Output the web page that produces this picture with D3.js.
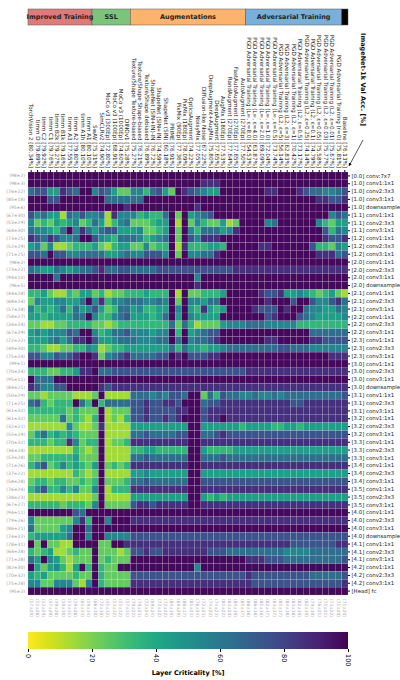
<!DOCTYPE html>
<html>
<head>
<meta charset="utf-8">
<script src="https://cdn.jsdelivr.net/npm/d3@7"></script>
<style>
  body { margin: 0; background: #fff; }
  text { font-family: "DejaVu Sans", sans-serif; }
</style>
</head>
<body>
<div id="container"></div>
<script>
/* DATA */
const columns = [
  "TorchVision 2 [80.34%]", "timm D [79.89%]", "timm C2 [79.92%]", "timm C1 [79.76%]", "timm B2k [79.27%]",
  "timm B1k [79.16%]", "timm A3 [77.55%]", "timm A2 [79.80%]", "timm A1h [80.10%]", "timm A1 [80.10%]",
  "SwAV [75.31%]", "SimCLRv2 [74.90%]", "MoCo v3 (300Ep) [72.80%]", "MoCo v3 (100Ep) [68.91%]", "MoCo v3 (1000Ep) [74.60%]", "DINOv1 [75.28%]",
  "Texture/Shape Texture-biased [75.27%]", "Texture/Shape Shape-biased [76.21%]", "Texture/Shape debiased [76.89%]",
  "ShapeNet (SIN+IN)-IN [76.72%]", "ShapeNet (SIN+IN) [74.59%]", "ShapeNet (SIN) [60.18%]", "PRIME [76.91%]",
  "PixMix (90Ep) [77.36%]", "PixMix (180Ep) [78.09%]", "OpticsAugment [74.22%]", "NoisyMix [77.05%]",
  "Diffusion-like Noise [67.22%]", "DeepAugment+AugMix [75.80%]", "DeepAugment [77.65%]", "AugMix (180Ep) [77.53%]",
  "RandAugment (270Ep) [77.64%]", "FastAutoAugment (270Ep) [77.65%]", "AutoAugment (270Ep) [77.50%]",
  "PGD Adversarial Training (L\u221E, \u03B5=8.0) [54.53%]", "PGD Adversarial Training (L\u221E, \u03B5=4.0) [63.87%]",
  "PGD Adversarial Training (L\u221E, \u03B5=2.0) [69.09%]", "PGD Adversarial Training (L\u221E, \u03B5=1.0) [72.04%]",
  "PGD Adversarial Training (L\u221E, \u03B5=0.5) [73.74%]", "PGD Adversarial Training (L2, \u03B5=5) [56.14%]",
  "PGD Adversarial Training (L2, \u03B5=3) [62.83%]", "PGD Adversarial Training (L2, \u03B5=1) [70.42%]",
  "PGD Adversarial Training (L2, \u03B5=0.5) [73.17%]", "PGD Adversarial Training (L2, \u03B5=0.25) [74.14%]",
  "PGD Adversarial Training (L2, \u03B5=0.1) [74.79%]", "PGD Adversarial Training (L2, \u03B5=0.05) [75.58%]",
  "PGD Adversarial Training (L2, \u03B5=0.03) [75.77%]", "PGD Adversarial Training (L2, \u03B5=0.01) [75.67%]",
  "PGD Adversarial Training (r=0) [75.81%]", "Baseline [76.13%]"
]

const groups = ["Improved Training", "SSL", "Augmentations", "Adversarial Training", ""]
const groupSizes = [10, 6, 18, 15, 1]
const groupColors = ["#e07a7a", "#7cc47c", "#fcb36b", "#79b0d9", "#000000"]

const rows = [
  "[0.0] conv:7x7", "[1.0] conv1:1x1", "[1.0] conv2:3x3", "[1.0] conv3:1x1", "[1.0] downsample",
  "[1.1] conv1:1x1", "[1.1] conv2:3x3", "[1.1] conv3:1x1", "[1.2] conv1:1x1", "[1.2] conv2:3x3", "[1.2] conv3:1x1",
  "[2.0] conv1:1x1", "[2.0] conv2:3x3", "[2.0] conv3:1x1", "[2.0] downsample",
  "[2.1] conv1:1x1", "[2.1] conv2:3x3", "[2.1] conv3:1x1", "[2.2] conv1:1x1", "[2.2] conv2:3x3", "[2.2] conv3:1x1",
  "[2.3] conv1:1x1", "[2.3] conv2:3x3", "[2.3] conv3:1x1",
  "[3.0] conv1:1x1", "[3.0] conv2:3x3", "[3.0] conv3:1x1", "[3.0] downsample",
  "[3.1] conv1:1x1", "[3.1] conv2:3x3", "[3.1] conv3:1x1", "[3.2] conv1:1x1", "[3.2] conv2:3x3", "[3.2] conv3:1x1",
  "[3.3] conv1:1x1", "[3.3] conv2:3x3", "[3.3] conv3:1x1", "[3.4] conv1:1x1", "[3.4] conv2:3x3", "[3.4] conv3:1x1",
  "[3.5] conv1:1x1", "[3.5] conv2:3x3", "[3.5] conv3:1x1",
  "[4.0] conv1:1x1", "[4.0] conv2:3x3", "[4.0] conv3:1x1", "[4.0] downsample",
  "[4.1] conv1:1x1", "[4.1] conv2:3x3", "[4.1] conv3:1x1", "[4.2] conv1:1x1", "[4.2] conv2:3x3", "[4.2] conv3:1x1",
  "[Head] fc"
]

const rowStats = [
  "(98\u00B12)", "(98\u00B13)", "(76\u00B122)", "(85\u00B118)", "(95\u00B16)",
  "(67\u00B130)", "(53\u00B129)", "(64\u00B130)", "(73\u00B125)", "(52\u00B129)", "(71\u00B125)",
  "(98\u00B12)", "(73\u00B122)", "(94\u00B110)", "(96\u00B15)",
  "(44\u00B128)", "(68\u00B124)", "(57\u00B128)", "(58\u00B127)", "(34\u00B124)", "(67\u00B129)",
  "(72\u00B122)", "(49\u00B130)", "(75\u00B124)",
  "(99\u00B11)", "(70\u00B124)", "(95\u00B111)", "(84\u00B121)",
  "(50\u00B129)", "(71\u00B125)", "(61\u00B132)", "(61\u00B132)", "(32\u00B121)", "(55\u00B129)",
  "(70\u00B132)", "(36\u00B124)", "(53\u00B128)", "(71\u00B126)", "(37\u00B122)", "(58\u00B128)",
  "(76\u00B124)", "(38\u00B123)", "(67\u00B127)",
  "(94\u00B111)", "(79\u00B126)", "(86\u00B121)", "(74\u00B122)",
  "(78\u00B131)", "(64\u00B128)", "(71\u00B128)", "(82\u00B130)", "(70\u00B132)", "(75\u00B128)",
  "(95\u00B12)"
]

// criticality per cell, one digit per column (0 = ~5%, 9 = ~98%), split by column group
const cellLevels = [
  ["9999999999", "999999", "999999999999999999", "999999999999999", "9"],
  ["9999999999", "999999", "999999999998889999", "999999999999999", "9"],
  ["6774487699", "576422", "553674298765449999", "999889998766556", "7"],
  ["9997799999", "996666", "669999999999999999", "999999999998877", "8"],
  ["9999999999", "999998", "999999999989999999", "999999999999999", "9"],
  ["7564416575", "561855", "534336929456799999", "999999999999957", "6"],
  ["5232434523", "641356", "222344919253224129", "999569999995324", "4"],
  ["6554369586", "467744", "452234929536664589", "999999999999736", "5"],
  ["8768755699", "754366", "653456929758889999", "999999999999877", "8"],
  ["4525112333", "421344", "225233918333443999", "998899999973325", "4"],
  ["7769775566", "664456", "557775929556689999", "999999999998886", "7"],
  ["9999999999", "999999", "999999999999999999", "999999999999999", "9"],
  ["6544654566", "786677", "666677777777777788", "888888888888888", "8"],
  ["9999699999", "999999", "999999999959999999", "999999999999999", "9"],
  ["9999999999", "999999", "999999999989999999", "999999999999999", "9"],
  ["3342113244", "231223", "334333919223334999", "998778445432342", "1"],
  ["2544554469", "583556", "665565929554669999", "999899979975578", "6"],
  ["5343463645", "742366", "453344959438434999", "987779899655446", "5"],
  ["4434444669", "533567", "444346949544449999", "999789997654444", "5"],
  ["2211223333", "221233", "333333626312224555", "666555553333333", "3"],
  ["4545557699", "534667", "555455939456779999", "999999999966666", "6"],
  ["4445646889", "744566", "655566969566789999", "999889999988777", "7"],
  ["3321122335", "412334", "444444636443445666", "666667766655555", "5"],
  ["7755767899", "825678", "666677989777889999", "999999999999988", "8"],
  ["9999999999", "999999", "999999999999999999", "999999999999999", "9"],
  ["3332233488", "966777", "777777777777777777", "888888888888888", "8"],
  ["9666999999", "999999", "999999999999999999", "999999999999999", "9"],
  ["8755779999", "987888", "888888888888888888", "888888888888888", "8"],
  ["2212222111", "291111", "666565776992637665", "565565666666666", "7"],
  ["6732333963", "936666", "778778879996778888", "888888877888888", "8"],
  ["3333332322", "291222", "778777788997888888", "888888888888888", "8"],
  ["2222262321", "391213", "778778789997889888", "888888888888888", "8"],
  ["1111115211", "281111", "444444444994444443", "444433443444444", "4"],
  ["2463434322", "291111", "667666677996678777", "777777777777777", "7"],
  ["3332338523", "391223", "888888888998888888", "888888888888888", "8"],
  ["1111111321", "291111", "334433333994333344", "444444444444444", "4"],
  ["2233333422", "291111", "667666666996667666", "666666666666666", "6"],
  ["3572353432", "492323", "888888888998888888", "888888888888888", "8"],
  ["1111111321", "291111", "445444444994444444", "444444444444444", "4"],
  ["2332332232", "392223", "667666666997777777", "777777777777777", "7"],
  ["3573353522", "591333", "888888888998888888", "888888888888888", "8"],
  ["1111111111", "291111", "444444444994343444", "444444444444444", "4"],
  ["3333323332", "592222", "788788888998888888", "888888888888888", "8"],
  ["9999999769", "999999", "999999999999999999", "999999999999999", "9"],
  ["5222222583", "995999", "888888888888888888", "888888888888888", "8"],
  ["6222245996", "999999", "999999999999999999", "999999999999999", "9"],
  ["3444446995", "995555", "777777777777777777", "777777777777777", "7"],
  ["9292211999", "922998", "888888888888888888", "888888877777778", "8"],
  ["3234112322", "922212", "778778888888777666", "666666555566666", "6"],
  ["6495421222", "923222", "999999999999999999", "888777666666666", "7"],
  ["9424531493", "932299", "999999999959999999", "999999999999999", "9"],
  ["4342222322", "932222", "777777777777777777", "877777777766666", "7"],
  ["5522555215", "932222", "888888888888888888", "877777777777777", "8"],
  ["9999999999", "999999", "999999999999999999", "999999999999999", "9"]
]

const levelValues = [4, 14, 24, 34, 44, 54, 64, 74, 86, 98]
const colorTicks = [0, 20, 40, 60, 80, 100]

/* LAYOUT */
const width = 400, height = 680
const hm = { left: 28, right: 348, top: 172, bottom: 595 }

const cells = []
cellLevels.forEach((parts, r) => {
  let c = 0
  parts.forEach((s, g) => {
    const str = s.padEnd(groupSizes[g], s[s.length - 1]).slice(0, groupSizes[g])
    for (const ch of str) cells.push({ r, c: c++, v: levelValues[+ch] })
  })
})

const svg = d3.select("#container").append("svg")
  .attr("width", width).attr("height", height)

const xScale = d3.scaleBand().domain(d3.range(columns.length)).range([hm.left, hm.right])
const yScale = d3.scaleBand().domain(d3.range(rows.length)).range([hm.top, hm.bottom])
const color = v => d3.interpolateViridis(1 - v / 100)

// cells
svg.append("g").selectAll("rect")
  .data(cells)
  .join("rect")
  .attr("x", d => xScale(d.c))
  .attr("y", d => yScale(d.r))
  .attr("width", xScale.bandwidth())
  .attr("height", yScale.bandwidth())
  .attr("fill", d => color(d.v))
  .attr("stroke", "rgba(255,255,255,0.25)")
  .attr("stroke-width", 0.4)

// top axis with model labels
const topAxis = svg.append("g")
  .attr("transform", `translate(0, ${hm.top})`)
  .call(d3.axisTop(xScale).tickSize(2).tickFormat(i => columns[i]))
topAxis.select(".domain").remove()
topAxis.selectAll("text")
  .attr("transform", "rotate(90)")
  .attr("x", -4).attr("y", 0).attr("dy", "0.32em")
  .style("text-anchor", "end")
  .style("font-size", "5.6px")
  .style("font-family", "DejaVu Sans")
  .attr("fill", "#222")

// right axis with layer names
const rightAxis = svg.append("g")
  .attr("transform", `translate(${hm.right}, 0)`)
  .call(d3.axisRight(yScale).tickSize(2).tickFormat(i => rows[i]))
rightAxis.select(".domain").remove()
rightAxis.selectAll("text")
  .attr("x", 3.5)
  .style("font-size", "5.4px")
  .style("font-family", "DejaVu Sans")
  .attr("fill", "#222")

// left row stats
svg.append("g").selectAll("text")
  .data(rowStats)
  .join("text")
  .attr("x", hm.left - 3)
  .attr("y", (d, i) => yScale(i) + yScale.bandwidth() / 2)
  .attr("dy", "0.35em")
  .attr("text-anchor", "end")
  .attr("fill", "#999")
  .style("font-size", "4.5px")
  .text(d => d)

// bottom column stats
const colStats = columns.map((_, c) => {
  const vals = cells.filter(d => d.c === c).map(d => d.v)
  return `(${Math.round(d3.mean(vals))}\u00B1${Math.round(d3.deviation(vals))})`
})
svg.append("g").selectAll("text")
  .data(colStats)
  .join("text")
  .attr("transform", (d, i) => `translate(${xScale(i) + xScale.bandwidth() / 2}, ${hm.bottom + 4}) rotate(90)`)
  .attr("dy", "0.35em")
  .attr("fill", "#aaa")
  .style("font-size", "4.3px")
  .text(d => d)

// group header bars
let start = 0
const headerData = groups.map((g, i) => {
  const d = { name: g, start, end: start + groupSizes[i], color: groupColors[i] }
  start += groupSizes[i]
  return d
})
const header = svg.append("g")
header.selectAll("rect")
  .data(headerData)
  .join("rect")
  .attr("x", d => xScale(d.start))
  .attr("y", 9)
  .attr("width", d => xScale(d.end - 1) + xScale.bandwidth() - xScale(d.start))
  .attr("height", 16)
  .attr("fill", d => d.color)
  .attr("stroke", "#555")
  .attr("stroke-width", 0.5)
header.selectAll("text")
  .data(headerData)
  .join("text")
  .attr("x", d => (xScale(d.start) + xScale(d.end - 1) + xScale.bandwidth()) / 2)
  .attr("y", 17)
  .attr("dy", "0.35em")
  .attr("text-anchor", "middle")
  .style("font-size", "6.5px")
  .style("font-weight", "bold")
  .attr("fill", "#222")
  .text(d => d.name)

// accuracy annotation
svg.append("text")
  .attr("transform", "translate(363, 33) rotate(90)")
  .attr("dy", "0.35em")
  .style("font-size", "6.5px")
  .style("font-weight", "bold")
  .attr("fill", "#111")
  .text("ImageNet-1k Val Acc. [%]")
svg.append("defs").append("marker")
  .attr("id", "arr").attr("viewBox", "0 0 10 10").attr("refX", 9).attr("refY", 5)
  .attr("markerWidth", 5).attr("markerHeight", 5).attr("orient", "auto")
  .append("path").attr("d", "M0,0L10,5L0,10z").attr("fill", "#111")
svg.append("line")
  .attr("x1", 363).attr("y1", 140).attr("x2", hm.right + 1).attr("y2", 166)
  .attr("stroke", "#111").attr("stroke-width", 0.7)
  .attr("marker-end", "url(#arr)")

// colour bar
const cb = { left: hm.left, right: hm.right, top: 632, h: 17 }
const grad = svg.select("defs").append("linearGradient").attr("id", "cbgrad")
d3.range(0, 101, 5).forEach(t => {
  grad.append("stop").attr("offset", `${t}%`).attr("stop-color", color(t))
})
svg.append("rect")
  .attr("x", cb.left).attr("y", cb.top)
  .attr("width", cb.right - cb.left).attr("height", cb.h)
  .attr("fill", "url(#cbgrad)")
const cScale = d3.scaleLinear().domain([0, 100]).range([cb.left, cb.right])
const cbAxis = svg.append("g")
  .attr("transform", `translate(0, ${cb.top + cb.h})`)
  .call(d3.axisBottom(cScale).tickValues(colorTicks).tickSize(3))
cbAxis.select(".domain").remove()
cbAxis.selectAll("text")
  .attr("transform", "rotate(90)")
  .attr("x", 5).attr("y", 0).attr("dy", "0.35em")
  .style("text-anchor", "start")
  .style("font-size", "6.5px")
  .style("font-family", "DejaVu Sans")
svg.append("text")
  .attr("x", (cb.left + cb.right) / 2)
  .attr("y", 675)
  .attr("text-anchor", "middle")
  .style("font-size", "6.5px")
  .style("font-weight", "bold")
  .text("Layer Criticality [%]")
</script>
</body>
</html>
